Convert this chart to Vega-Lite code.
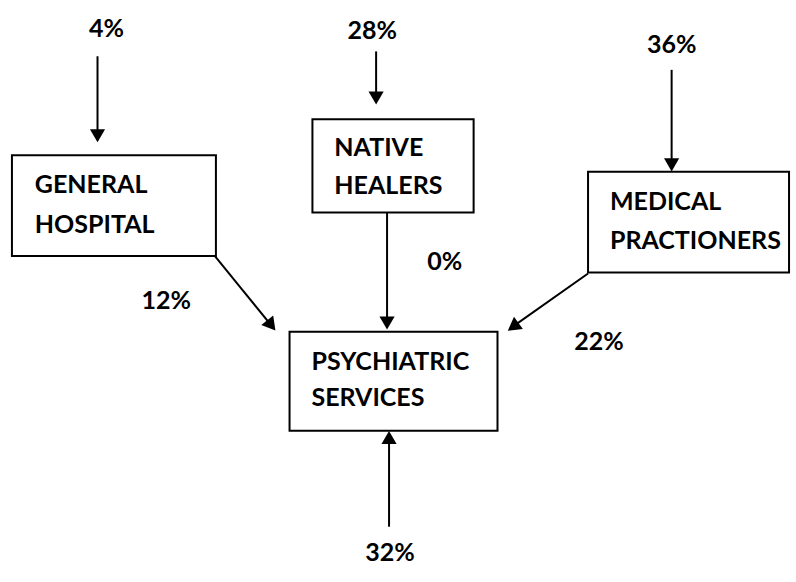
{
  "$schema": "https://vega.github.io/schema/vega-lite/v6.json",
  "width": 796,
  "height": 582,
  "padding": 0,
  "autosize": "none",
  "background": "white",
  "config": {"view": {"stroke": null}},
  "datasets": {
    "boxes": [
      {"box": "General Hospital", "x": 12, "x2": 217, "y": 160, "y2": 264},
      {"box": "Native Healers", "x": 314, "x2": 476, "y": 123, "y2": 219},
      {"box": "Medical Practioners", "x": 591, "x2": 793, "y": 177, "y2": 281},
      {"box": "Psychiatric Services", "x": 291, "x2": 500, "y": 342, "y2": 444}
    ],
    "links": [
      {"link": "4% in", "x": 98, "y": 58, "x2": 98, "y2": 141},
      {"link": "28% in", "x": 378, "y": 53, "x2": 378, "y2": 102},
      {"link": "36% in", "x": 675, "y": 72, "x2": 675, "y2": 171},
      {"link": "GH to PS", "x": 216, "y": 264, "x2": 273, "y2": 336},
      {"link": "NH to PS", "x": 389, "y": 219, "x2": 389, "y2": 334},
      {"link": "MP to PS", "x": 591, "y": 282, "x2": 515, "y2": 337},
      {"link": "32% in", "x": 391, "y": 543, "x2": 391, "y2": 450}
    ],
    "heads": [
      {"link": "4% in", "x": 98, "y": 140, "angle": 180},
      {"link": "28% in", "x": 378, "y": 101, "angle": 180},
      {"link": "36% in", "x": 675, "y": 170, "angle": 180},
      {"link": "GH to PS", "x": 272.7, "y": 335.5, "angle": 141.6},
      {"link": "NH to PS", "x": 389, "y": 333, "angle": 180},
      {"link": "MP to PS", "x": 515.7, "y": 336.9, "angle": 234},
      {"link": "32% in", "x": 391, "y": 451, "angle": 0}
    ],
    "labels": [
      {"text": "GENERAL", "x": 35, "y": 191},
      {"text": "HOSPITAL", "x": 35, "y": 232},
      {"text": "NATIVE", "x": 336, "y": 153},
      {"text": "HEALERS", "x": 336, "y": 192},
      {"text": "MEDICAL", "x": 613, "y": 208},
      {"text": "PRACTIONERS", "x": 613, "y": 248},
      {"text": "PSYCHIATRIC", "x": 313, "y": 373},
      {"text": "SERVICES", "x": 313, "y": 410}
    ],
    "pcts": [
      {"text": "4%", "x": 107, "y": 30},
      {"text": "28%", "x": 374, "y": 32},
      {"text": "36%", "x": 675, "y": 46},
      {"text": "0%", "x": 447, "y": 270},
      {"text": "12%", "x": 167, "y": 310},
      {"text": "22%", "x": 602, "y": 353},
      {"text": "32%", "x": 392, "y": 570}
    ]
  },
  "layer": [
    {
      "data": {"name": "boxes"},
      "mark": {"type": "rect", "fill": "white", "stroke": "black", "strokeWidth": 2},
      "encoding": {
        "x": {"field": "x", "type": "quantitative", "scale": {"domain": [0, 796]}, "axis": null},
        "x2": {"field": "x2"},
        "y": {"field": "y", "type": "quantitative", "scale": {"domain": [0, 582], "reverse": true}, "axis": null},
        "y2": {"field": "y2"}
      }
    },
    {
      "data": {"name": "links"},
      "mark": {"type": "rule", "color": "black", "strokeWidth": 2},
      "encoding": {
        "x": {"field": "x", "type": "quantitative"},
        "x2": {"field": "x2"},
        "y": {"field": "y", "type": "quantitative"},
        "y2": {"field": "y2"}
      }
    },
    {
      "data": {"name": "heads"},
      "mark": {"type": "point", "shape": "triangle-up", "filled": true, "color": "black", "size": 230, "opacity": 1},
      "encoding": {
        "x": {"field": "x", "type": "quantitative"},
        "y": {"field": "y", "type": "quantitative"},
        "angle": {"field": "angle", "type": "quantitative", "scale": null}
      }
    },
    {
      "data": {"name": "labels"},
      "mark": {"type": "text", "align": "left", "baseline": "middle", "font": "Lato", "fontWeight": "bold", "fontSize": 25, "color": "black"},
      "encoding": {
        "x": {"field": "x", "type": "quantitative"},
        "y": {"field": "y", "type": "quantitative"},
        "text": {"field": "text"}
      }
    },
    {
      "data": {"name": "pcts"},
      "mark": {"type": "text", "align": "center", "baseline": "middle", "font": "Lato", "fontWeight": "bold", "fontSize": 25, "color": "black"},
      "encoding": {
        "x": {"field": "x", "type": "quantitative"},
        "y": {"field": "y", "type": "quantitative"},
        "text": {"field": "text"}
      }
    }
  ]
}
